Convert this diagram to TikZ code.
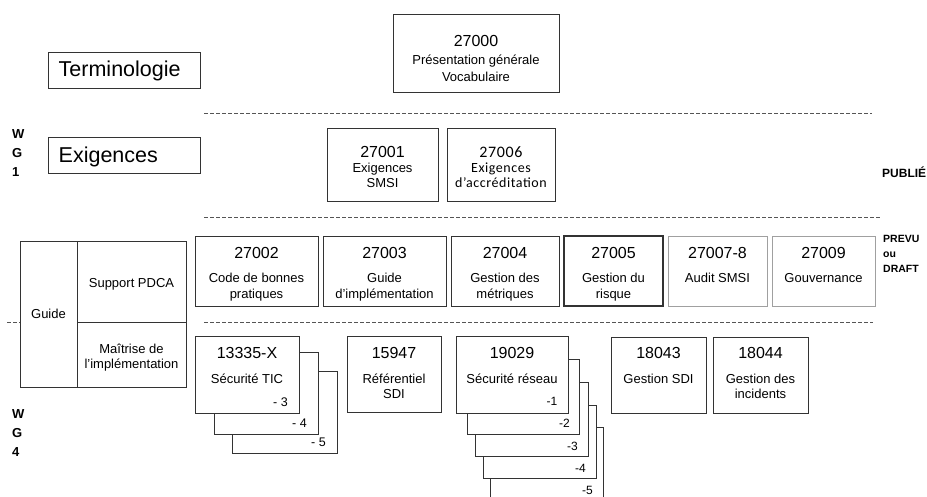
\documentclass[tikz,border=0pt]{standalone}
\usepackage{fontspec}
\setmainfont{Liberation Sans}
\newfontfamily\carl{Carlito}[LetterSpace=4]
\definecolor{boxc}{HTML}{333333}
\definecolor{greyc}{HTML}{A0A0A0}
\definecolor{dashc}{HTML}{555555}
\begin{document}
\begin{tikzpicture}[x=1pt,y=-1pt,
  bx/.style={draw=boxc, line width=0.9pt, fill=white, inner sep=0pt, rectangle},
  gbx/.style={bx, draw=greyc},
  num/.style={font=\fontsize{16}{18}\selectfont, anchor=base, inner sep=0pt},
  txt/.style={font=\fontsize{13}{15}\selectfont, anchor=base, inner sep=0pt},
  cnum/.style={font=\carl\fontsize{16}{18}\selectfont, anchor=base, inner sep=0pt},
  ctxt/.style={font=\carl\fontsize{14}{16}\selectfont, anchor=base, inner sep=0pt},
  big/.style={font=\fontsize{21.5}{24}\selectfont, anchor=base west, inner sep=0pt},
  wg/.style={font=\bfseries\fontsize{13}{15}\selectfont, anchor=base west, inner sep=0pt},
  st/.style={font=\bfseries\fontsize{10.5}{12}\selectfont, anchor=base west, inner sep=0pt},
  sep/.style={draw=dashc, line width=0.8pt, dash pattern=on 3.5pt off 2.5pt},
  suf/.style={font=\fontsize{12.5}{14}\selectfont, anchor=base east, inner sep=0pt}]
\useasboundingbox (0,0) rectangle (927,497);

% separators
\draw[sep] (204,113) -- (872,113);
\draw[sep] (204,217) -- (881,217);
\draw[sep] (204,322) -- (873,322);
\draw[sep] (7,322) -- (20,322);

% WG1 part
\node[bx, minimum width=152pt, minimum height=36pt] (term) at (124,70) {};
\node[big] (termt) at (58.5,76.5) {Terminologie};
\node[bx, minimum width=152pt, minimum height=36pt] (exig) at (124,155) {};
\node[big] (exigt) at (58.5,162.5) {Exigences};

\node[bx, minimum width=166pt, minimum height=78pt] (b27000) at (476,53) {};
\node[num] (n27000) at (476,46.7) {27000};
\node[txt] (t27000a) at (476,65) {Présentation générale};
\node[txt] (t27000b) at (476,81.5) {Vocabulaire};

\node[bx, minimum width=111pt, minimum height=73pt] (b27001) at (382.5,164.5) {};
\node[num] (n27001) at (382.5,157.5) {27001};
\node[txt] (t27001a) at (382.5,173) {Exigences};
\node[txt] (t27001b) at (382.5,188) {SMSI};

\node[bx, minimum width=108pt, minimum height=73pt] (b27006) at (501,164.5) {};
\node[cnum] (n27006) at (501,157.5) {27006};
\node[ctxt] (t27006a) at (501,173) {Exigences};
\node[ctxt] (t27006b) at (501,188) {d’accréditation};

\node[wg] (w1a) at (12,139) {W};
\node[wg] (w1b) at (12,158) {G};
\node[wg] (w1c) at (12,177) {1};
\node[font=\bfseries\fontsize{12}{14}\selectfont, anchor=base west, inner sep=0pt] (publie) at (882,178) {PUBLIÉ};

% Guide block
\node[bx, minimum width=57pt, minimum height=146pt] (guide) at (48.5,314) {};
\node[txt] (guidet) at (48.5,319) {Guide};
\node[bx, minimum width=109pt, minimum height=81pt] (pdca) at (131.5,281.5) {};
\node[txt] (pdcat) at (131.5,288) {Support PDCA};
\node[bx, minimum width=109pt, minimum height=65pt] (mait) at (131.5,354.5) {};
\node[txt] (maita) at (131.5,353) {Maîtrise de};
\node[txt] (maitb) at (131.5,368) {l’implémentation};

% row 1
\node[bx, minimum width=123pt, minimum height=70pt] (b27002) at (256.5,271) {};
\node[num] at (256.5,258.5) (n27002) {27002};
\node[txt] at (256.5,283) (t27002a) {Code de bonnes};
\node[txt] at (256.5,298.5) (t27002b) {pratiques};

\node[bx, minimum width=123pt, minimum height=70pt] (b27003) at (384.5,271) {};
\node[num] at (384.5,258.5) (n27003) {27003};
\node[txt] at (384.5,283) (t27003a) {Guide};
\node[txt] at (384.5,298.5) (t27003b) {d’implémentation};

\node[bx, minimum width=108pt, minimum height=70pt] (b27004) at (505,271) {};
\node[num] at (505,258.5) (n27004) {27004};
\node[txt] at (505,283) (t27004a) {Gestion des};
\node[txt] at (505,298.5) (t27004b) {métriques};

\node[bx, line width=1.1pt, minimum width=99pt, minimum height=70pt] (b27005) at (613.5,271) {};
\node[num] at (613.5,258.5) (n27005) {27005};
\node[txt] at (613.5,283) (t27005a) {Gestion du};
\node[txt] at (613.5,298.5) (t27005b) {risque};

\node[gbx, minimum width=99pt, minimum height=70pt] (b27007) at (717.5,271) {};
\node[num] at (717.5,258.5) (n27007) {27007-8};
\node[txt] at (717.5,283) (t27007a) {Audit SMSI};

\node[gbx, minimum width=103pt, minimum height=70pt] (b27009) at (823.5,271) {};
\node[num] at (823.5,258.5) (n27009) {27009};
\node[txt] at (823.5,283) (t27009a) {Gouvernance};

\node[st] (prevu) at (883,243) {PREVU};
\node[st] (ou) at (883,258) {ou};
\node[st] (draft) at (883,273) {DRAFT};

% row 2 : 13335 stack
\node[bx, minimum width=105pt, minimum height=82pt] (s13c) at (284.5,412) {};
\node[bx, minimum width=104pt, minimum height=82pt] (s13b) at (266,393) {};
\node[bx, minimum width=104pt, minimum height=77pt] (s13a) at (247,374.5) {};
\node[num] (n13335) at (247,358) {13335-X};
\node[txt] (t13335) at (247,383) {Sécurité TIC};
\node[suf] (l133) at (288,406) {- 3};
\node[suf] (l134) at (307,427.5) {- 4};
\node[suf] (l135) at (326,446) {- 5};

\node[bx, minimum width=94pt, minimum height=76pt] (b15947) at (394,374) {};
\node[num] (n15947) at (394,358) {15947};
\node[txt] (t15947a) at (394,383) {Référentiel};
\node[txt] (t15947b) at (394,398.5) {SDI};

% 19029 stack
\path[fill=white] (490,427) rectangle (603,497);
\draw[draw=boxc, line width=0.9pt] (490,497) |- (603,427) -- (603,497);
\node[bx, minimum width=113pt, minimum height=73pt] (s19d) at (539.5,441.5) {};
\node[bx, minimum width=113pt, minimum height=74pt] (s19c) at (531.5,419) {};
\node[bx, minimum width=112pt, minimum height=75pt] (s19b) at (523,396.5) {};
\node[bx, minimum width=112pt, minimum height=77pt] (s19a) at (512,374.5) {};
\node[num] (n19029) at (512,358) {19029};
\node[txt] (t19029) at (512,383) {Sécurité réseau};
\node[suf, font=\fontsize{12}{14}\selectfont] (l191) at (557.5,405) {-1};
\node[suf, font=\fontsize{12}{14}\selectfont] (l192) at (570,427) {-2};
\node[suf, font=\fontsize{12}{14}\selectfont] (l193) at (578,450) {-3};
\node[suf, font=\fontsize{12}{14}\selectfont] (l194) at (586,472) {-4};
\node[suf, font=\fontsize{12}{14}\selectfont] (l195) at (593,494) {-5};

\node[bx, minimum width=95pt, minimum height=76pt] (b18043) at (658.5,375) {};
\node[num] (n18043) at (658.5,358) {18043};
\node[txt] (t18043) at (658.5,383) {Gestion SDI};

\node[bx, minimum width=95pt, minimum height=76pt] (b18044) at (760.5,375) {};
\node[num] (n18044) at (760.5,358) {18044};
\node[txt] (t18044a) at (760.5,383) {Gestion des};
\node[txt] (t18044b) at (760.5,398.5) {incidents};

\node[wg] (w4a) at (12,418) {W};
\node[wg] (w4b) at (12,437) {G};
\node[wg] (w4c) at (12,456) {4};
\end{tikzpicture}
\end{document}
